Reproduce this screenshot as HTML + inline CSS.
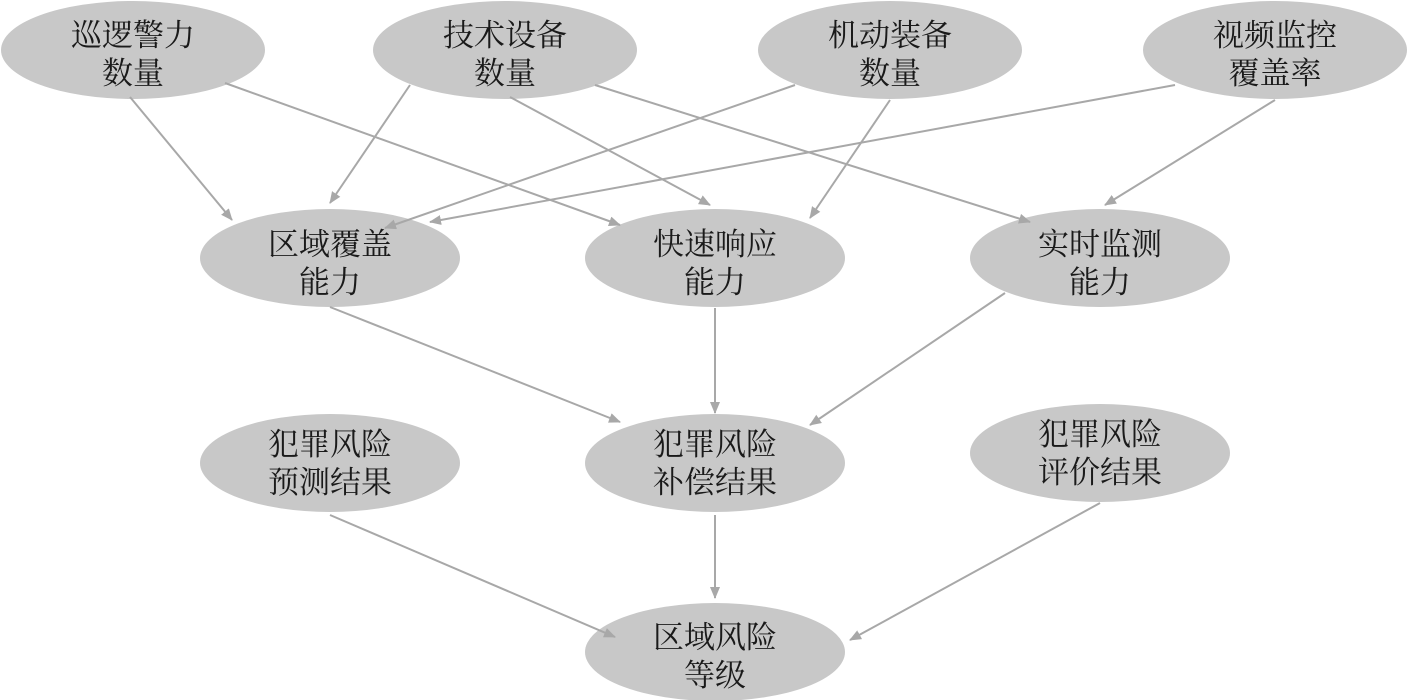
<!DOCTYPE html>
<html><head><meta charset="utf-8"><style>
html,body{margin:0;padding:0;background:#fff;}
svg{display:block;}
text{font-family:"Liberation Serif","Noto Serif CJK SC","Noto Sans CJK SC",serif;font-size:31px;fill:#1a1a1a;text-anchor:middle;}
</style></head><body>
<svg width="1407" height="700" viewBox="0 0 1407 700" xmlns="http://www.w3.org/2000/svg">
<defs><marker id="a" markerWidth="12" markerHeight="10" refX="11" refY="5" orient="auto" markerUnits="userSpaceOnUse"><path d="M0,0 L12,5 L0,10 Z" fill="#a8a8a8"/></marker></defs>
<g fill="#c8c8c8">
<ellipse cx="133" cy="50" rx="132" ry="49"/>
<ellipse cx="505" cy="50" rx="132" ry="49"/>
<ellipse cx="890" cy="50" rx="132" ry="49"/>
<ellipse cx="1275" cy="50" rx="132" ry="49"/>
<ellipse cx="330" cy="258" rx="130" ry="49"/>
<ellipse cx="715" cy="258" rx="130" ry="49"/>
<ellipse cx="1100" cy="258" rx="130" ry="49"/>
<ellipse cx="330" cy="463" rx="130" ry="49"/>
<ellipse cx="715" cy="463" rx="130" ry="49"/>
<ellipse cx="1100" cy="453" rx="130" ry="49"/>
<ellipse cx="715" cy="652" rx="130" ry="49"/>
</g>
<g stroke="#a8a8a8" stroke-width="2" marker-end="url(#a)">
<line x1="130" y1="97" x2="232" y2="220"/>
<line x1="225" y1="83" x2="620" y2="225"/>
<line x1="410" y1="85" x2="330" y2="203"/>
<line x1="510" y1="97" x2="710" y2="205"/>
<line x1="595" y1="85" x2="1030" y2="222"/>
<line x1="795" y1="85" x2="385" y2="228"/>
<line x1="890" y1="100" x2="810" y2="218"/>
<line x1="1175" y1="85" x2="430" y2="222"/>
<line x1="1275" y1="100" x2="1105" y2="205"/>
<line x1="330" y1="307" x2="620" y2="422"/>
<line x1="715" y1="308" x2="715" y2="413"/>
<line x1="1005" y1="293" x2="810" y2="425"/>
<line x1="330" y1="515" x2="615" y2="637"/>
<line x1="715" y1="515" x2="715" y2="598"/>
<line x1="1100" y1="503" x2="850" y2="640"/>
</g>
<text x="133" y="46">巡逻警力</text><text x="133" y="84">数量</text>
<text x="505" y="46">技术设备</text><text x="505" y="84">数量</text>
<text x="890" y="46">机动装备</text><text x="890" y="84">数量</text>
<text x="1275" y="46">视频监控</text><text x="1275" y="84">覆盖率</text>
<text x="330" y="255">区域覆盖</text><text x="330" y="293">能力</text>
<text x="715" y="255">快速响应</text><text x="715" y="293">能力</text>
<text x="1100" y="255">实时监测</text><text x="1100" y="293">能力</text>
<text x="330" y="455">犯罪风险</text><text x="330" y="493">预测结果</text>
<text x="715" y="455">犯罪风险</text><text x="715" y="493">补偿结果</text>
<text x="1100" y="445">犯罪风险</text><text x="1100" y="483">评价结果</text>
<text x="715" y="648">区域风险</text><text x="715" y="686">等级</text>
</svg>
</body></html>
